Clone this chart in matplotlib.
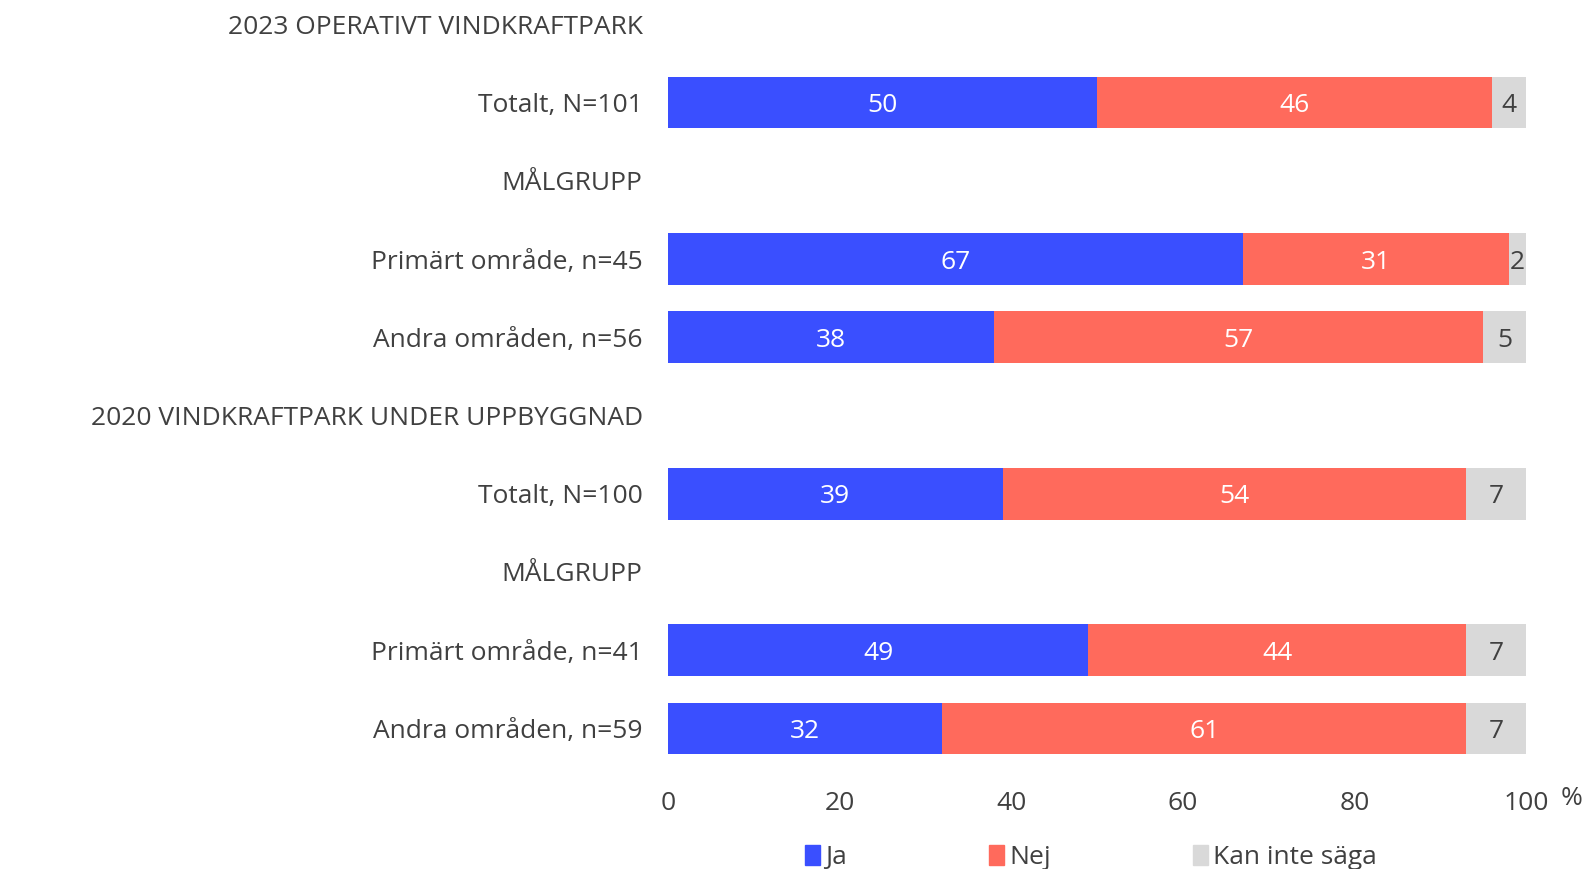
import matplotlib.pyplot as plt
from matplotlib.patches import Patch
import numpy as np

plt.rcParams['font.family'] = ['Open Sans', 'DejaVu Sans']

# Rader (rubrikrader utan staplar har None)
labels = ["2023 OPERATIVT VINDKRAFTPARK", "Totalt, N=101", "MÅLGRUPP",
          "Primärt område, n=45", "Andra områden, n=56",
          "2020 VINDKRAFTPARK UNDER UPPBYGGNAD", "Totalt, N=100", "MÅLGRUPP",
          "Primärt område, n=41", "Andra områden, n=59"]
ja = [None, 50, None, 67, 38, None, 39, None, 49, 32]
nej = [None, 46, None, 31, 57, None, 54, None, 44, 61]
kan = [None, 4, None, 2, 5, None, 7, None, 7, 7]

series = ["Ja", "Nej", "Kan inte säga"]
colors = ["#3a4fff", "#ff6a5c", "#d9d9d9"]
text_colors = ["white", "white", "#404040"]
xticks = [0, 20, 40, 60, 80, 100]

txt = "#404040"
fs = 19
fig = plt.figure(figsize=(15.86, 8.69), dpi=100)
ax = fig.add_axes([0.421, 0.1168, 0.5414, 0.8832])

y = np.arange(len(labels))
left = np.zeros(len(labels))
for vals, col, tc in zip([ja, nej, kan], colors, text_colors):
    for i, v in enumerate(vals):
        if v is None:
            continue
        ax.barh(i, v, left=left[i], height=0.66, color=col, edgecolor="none")
        ax.text(left[i] + v / 2, i + 0.04, str(v), ha="center", va="center",
                color=tc, fontsize=fs)
        left[i] += v

ax.set_xlim(0, 100)
ax.set_ylim(9.5, -0.311)
ax.set_yticks(y)
ax.set_yticklabels(labels, fontsize=fs, color=txt)
ax.set_xticks(xticks)
ax.set_xticklabels([str(t) for t in xticks], fontsize=fs, color=txt)
ax.tick_params(axis="y", length=0, pad=18)
ax.tick_params(axis="x", length=0, pad=17)
for s in ax.spines.values():
    s.set_visible(False)
ax.text(1.053, -0.04, "%", transform=ax.transAxes, fontsize=fs, color=txt,
        ha="center", va="center")

handles = [Patch(color=c, label=s) for c, s in zip(colors, series)]
fig.legend(handles=handles, loc="center", bbox_to_anchor=(0.688, 0.013), ncol=3,
           frameon=False, fontsize=fs, handlelength=0.55, handleheight=0.75,
           handletextpad=0.2, columnspacing=5.4, labelcolor=txt)

fig.savefig("out.png", dpi=100)
